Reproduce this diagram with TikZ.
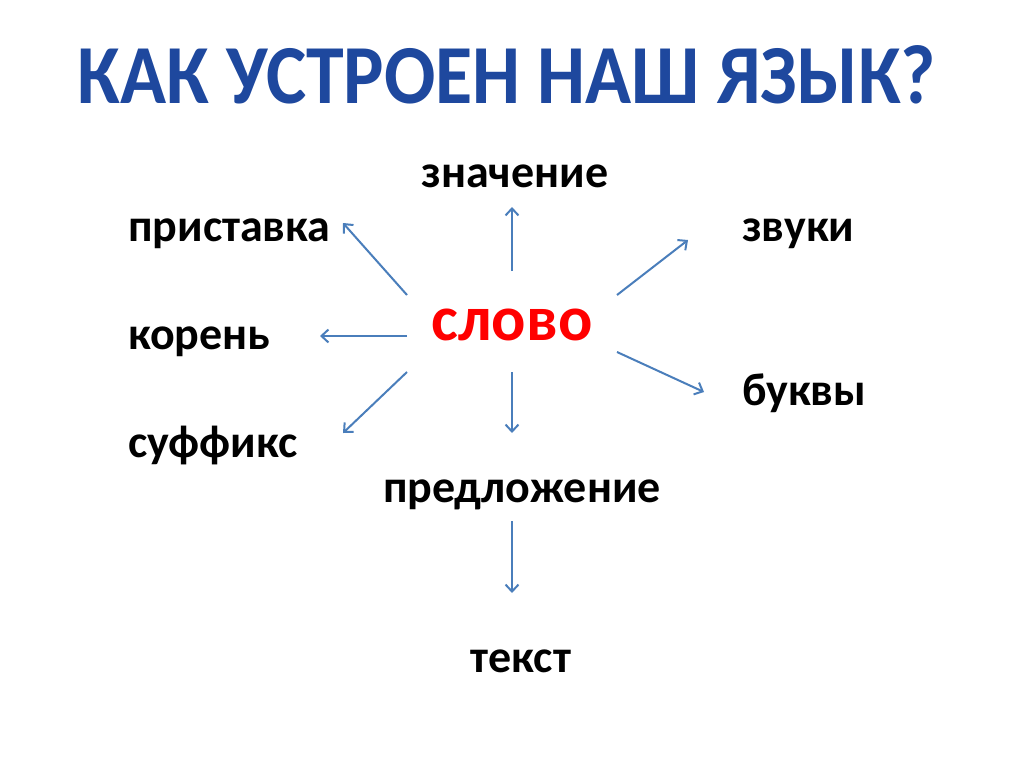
\documentclass[tikz,border=0pt]{standalone}
\usepackage{fontspec}
\setmainfont{Carlito}
\usetikzlibrary{arrows.meta}
\definecolor{titleblue}{RGB}{30,72,158}
\definecolor{arrowblue}{RGB}{74,126,187}
\definecolor{slovored}{RGB}{255,0,0}
\tikzset{word/.style={font=\fontsize{46}{50}\selectfont\bfseries, inner sep=0pt},
  ray/.style={draw=arrowblue, line width=2pt, ->}}
\begin{document}
\begin{tikzpicture}[x=1pt, y=-1pt, >={Straight Barb[length=7pt,width=13pt]}]
        \useasboundingbox (0,0) rectangle (1024,768);
        \node[anchor=base, inner sep=0pt, text=titleblue, xscale=.95, yscale=1.05,
          font=\fontsize{80}{84}\selectfont\bfseries] (title) at (507,103){КАК УСТРОЕН НАШ ЯЗЫК?};
        \node[word, anchor=base, text=slovored, font=\fontsize{64}{68}\selectfont\bfseries] (slovo) at (512,340){слово};
        \node[word, anchor=base] (znach) at (515,187){значение};
        \node[word, anchor=base west] (prist) at (128,241){приставка};
        \node[word, anchor=base west] (koren) at (128,349){корень};
        \node[word, anchor=base west] (suff) at (128,457){суффикс};
        \node[word, anchor=base west] (zvuki) at (742,241){звуки};
        \node[word, anchor=base west] (bukvy) at (742,405){буквы};
        \node[word, anchor=base] (predl) at (522,502){предложение};
        \node[word, anchor=base] (tekst) at (521,672){текст};
% ends of the rays
        \coordinate (s1) at (407,295); \coordinate (e1) at (343,223);
        \coordinate (s2) at (512,271); \coordinate (e2) at (512,207);
        \coordinate (s3) at (617,295); \coordinate (e3) at (688,240);
        \coordinate (s4) at (407,336); \coordinate (e4) at (320,336);
        \coordinate (s5) at (617,352); \coordinate (e5) at (704,392);
        \coordinate (s6) at (407,372); \coordinate (e6) at (343,433);
        \coordinate (s7) at (512,372); \coordinate (e7) at (512,433);
        \coordinate (s8) at (512,521); \coordinate (e8) at (512,593);
        \foreach \i in {1,...,8}
          \draw[ray] (s\i)--(e\i);
    \end{tikzpicture}
\end{document}
